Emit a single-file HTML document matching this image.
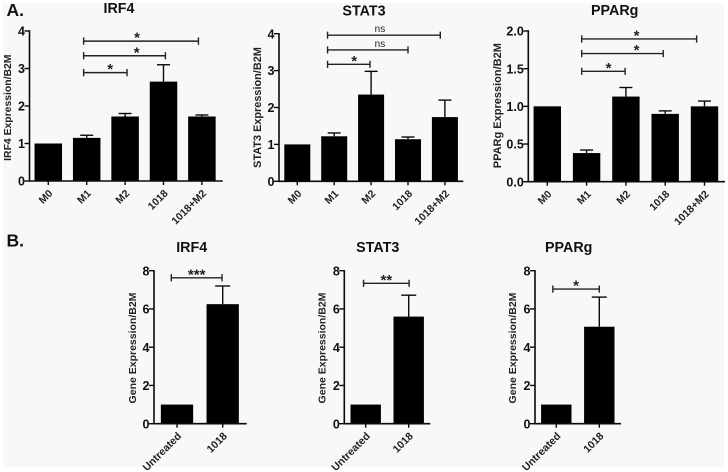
<!DOCTYPE html>
<html lang="en">
<head>
<meta charset="utf-8">
<title>Gene expression bar charts</title>
<style>
html,body{margin:0;padding:0;background:#fff;}
svg{display:block;font-family:"Liberation Sans",Arial,sans-serif;font-weight:bold;filter:blur(0.3px);}
</style>
</head>
<body>
<svg id="figure" width="728" height="472" viewBox="0 0 728 472" xmlns="http://www.w3.org/2000/svg">
<rect x="3" y="3" width="721" height="464" fill="#f8f8f8"/>
<text x="6.5" y="16" font-size="17.5" fill="#111">A.</text>
<text x="6.5" y="246.7" font-size="17.5" fill="#111">B.</text>
</svg>
<script>
const groupCategories = ["M0", "M1", "M2", "1018", "1018+M2"];
const pairCategories = ["Untreated", "1018"];

const irf4AValues = [1.0, 1.15, 1.72, 2.65, 1.72];
const irf4AErrorTops = [1.0, 1.22, 1.8, 3.1, 1.76];
const irf4ATicks = ["0", "1", "2", "3", "4"];
const irf4ABracketFrom = [0.92, 0.92, 0.92];
const irf4ABracketTo = [2.05, 3.05, 3.91];
const irf4ABracketLevel = [2.89, 3.34, 3.73];
const irf4ABracketLabel = ["*", "*", "*"];
const irf4ABracketLabelAt = [1.61, 2.3, 2.31];

const stat3AValues = [1.0, 1.22, 2.35, 1.14, 1.74];
const stat3AErrorTops = [1.0, 1.31, 2.98, 1.2, 2.2];
const stat3ATicks = ["0", "1", "2", "3", "4"];
const stat3ABracketFrom = [0.82, 0.82, 0.82];
const stat3ABracketTo = [1.97, 3.0, 3.875];
const stat3ABracketLevel = [3.17, 3.56, 3.96];
const stat3ABracketLabel = ["*", "ns", "ns"];
const stat3ABracketLabelAt = [1.54, 2.24, 2.24];

const ppargAValues = [1.0, 0.38, 1.13, 0.9, 1.0];
const ppargAErrorTops = [1.0, 0.42, 1.25, 0.94, 1.07];
const ppargATicks = ["0.0", "0.5", "1.0", "1.5", "2.0"];
const ppargABracketFrom = [0.875, 0.875, 0.875];
const ppargABracketTo = [1.98, 2.95, 3.8];
const ppargABracketLevel = [1.465, 1.70, 1.894];
const ppargABracketLabel = ["*", "*", "*"];
const ppargABracketLabelAt = [1.56, 2.27, 2.27];

const irf4BValues = [1.0, 6.25];
const irf4BErrorTops = [1.0, 7.2];
const stat3BValues = [1.0, 5.6];
const stat3BErrorTops = [1.0, 6.72];
const ppargBValues = [1.0, 5.07];
const ppargBErrorTops = [1.0, 6.62];
const pairTicks = ["0", "2", "4", "6", "8"];
const irf4BBracket = [-0.125, 0.985, 7.63];
const stat3BBracket = [-0.05, 1.01, 7.34];
const ppargBBracket = [-0.08, 1.0, 7.04];

const SVG_NS = "http://www.w3.org/2000/svg";
const figure = document.getElementById("figure");
const INK = "#0a0a0a";

function shape(parent, tag, attrs) {
  const el = document.createElementNS(SVG_NS, tag);
  for (const k in attrs) el.setAttribute(k, attrs[k]);
  parent.appendChild(el);
  return el;
}

function drawPanel(p) {
  const yMin = 0;
  const yMax = p.yMax;
  const yScale = v => p.y0 - (v - yMin) / (yMax - yMin) * (p.y0 - p.yTop);
  const xScale = i => p.firstCenter + i * p.step;

  const g = shape(figure, "g", {});
  
  

  const title = shape(g, "text", { x: p.titleX, y: p.titleY, "font-size": p.titleSize, "text-anchor": "middle", fill: "#111" });
  title.textContent = p.title;
  
  

  p.values.forEach((v, i) => {
    const top = yScale(v);
    const cx = xScale(i);
    const bar = shape(g, "rect", { x: cx - p.barWidth / 2, y: top, width: p.barWidth, height: p.y0 - top, fill: "#000" });
    
    

    if (p.errorTops[i] > v) {
      const errTop = yScale(p.errorTops[i]);
      const stem = shape(g, "line", { x1: cx, x2: cx, y1: top, y2: errTop, stroke: INK, "stroke-width": 1.4 });
      
      
      const cap = shape(g, "line", { x1: cx - p.capHalf, x2: cx + p.capHalf, y1: errTop, y2: errTop, stroke: INK, "stroke-width": 1.4 });
      
      
    }

    const tick = shape(g, "line", { x1: cx, x2: cx, y1: p.y0, y2: p.y0 + 4, stroke: INK, "stroke-width": 1.4 });
    
    

    const lx = cx + 5;
    const ly = p.y0 + 13;
    const label = shape(g, "text", { x: lx, y: ly, "font-size": p.catSize, "text-anchor": "end", fill: "#222", transform: "rotate(-45 " + lx + " " + ly + ")" });
    label.textContent = p.categories[i];
    
    
  });

  const xAxis = shape(g, "line", { x1: p.axisX - 0.8, x2: p.axisEnd, y1: p.y0, y2: p.y0, stroke: INK, "stroke-width": 1.6 });
  
  
  const yAxis = shape(g, "line", { x1: p.axisX, x2: p.axisX, y1: p.y0, y2: p.yTop - 0.7, stroke: INK, "stroke-width": 1.6 });
  
  

  p.ticks.forEach((t, i) => {
    const ty = yScale(Number(t));
    const tick = shape(g, "line", { x1: p.axisX - 5, x2: p.axisX, y1: ty, y2: ty, stroke: INK, "stroke-width": 1.4 });
    
    
    const label = shape(g, "text", { x: p.axisX - 4.5, y: ty + 4.6, "font-size": p.tickSize, "text-anchor": "end", fill: "#111" });
    label.textContent = t;
    
    
  });

  const yt = shape(g, "text", { "font-size": p.yTitleSize, "text-anchor": "middle", fill: "#222", transform: "translate(" + p.yTitleX + " " + p.yTitleY + ") rotate(-90)" });
  yt.textContent = p.yTitle;
  
  

  p.brFrom.forEach((f, i) => {
    const x1 = xScale(f);
    const x2 = xScale(p.brTo[i]);
    const by = yScale(p.brLevel[i]);
    const d = "M" + x1 + " " + (by - 3.6) + "V" + (by + 3.6) + "M" + x1 + " " + by + "H" + x2 + "M" + x2 + " " + (by - 3.6) + "V" + (by + 3.6);
    const br = shape(g, "path", { d: d, fill: "none", stroke: "#222", "stroke-width": 1.4 });
    
    
    const isNs = p.brLabel[i] === "ns";
    const labelX = p.brLabelAt ? xScale(p.brLabelAt[i]) : (x1 + x2) / 2;
    const sig = shape(g, "text", {
      x: labelX, y: isNs ? by - 3 : by + 1.5,
      "font-size": isNs ? 10 : 15, "text-anchor": "middle", fill: "#222",
      "font-weight": isNs ? "normal" : "bold"
    });
    sig.textContent = p.brLabel[i];
    
    
  });
}

const aCommon = { categories: groupCategories, titleSize: 14.3, catSize: 10.5, tickSize: 12.5, capHalf: 6.5 };
const bCommon = { categories: pairCategories, titleY: 252, titleSize: 14.3, catSize: 10.6, tickSize: 12.5, yTitleSize: 10.5, yMax: 8, capHalf: 7.5, ticks: pairTicks, yTitle: "Gene Expression/B2M", yTitleY: 348 };

drawPanel(Object.assign({}, aCommon, {
  id: "irf4-a", title: "IRF4", titleX: 119, titleY: 13, values: irf4AValues, errorTops: irf4AErrorTops, ticks: irf4ATicks,
  yMax: 4, y0: 181, yTop: 31, axisX: 29.5, axisEnd: 222.7, firstCenter: 48.3, step: 38.4, barWidth: 27.5,
  yTitle: "IRF4 Expression/B2M", yTitleX: 11, yTitleY: 107.7, yTitleSize: 10.4,
  brFrom: irf4ABracketFrom, brTo: irf4ABracketTo, brLevel: irf4ABracketLevel, brLabel: irf4ABracketLabel, brLabelAt: irf4ABracketLabelAt
}));
drawPanel(Object.assign({}, aCommon, {
  id: "stat3-a", title: "STAT3", titleX: 364, titleY: 15.5, values: stat3AValues, errorTops: stat3AErrorTops, ticks: stat3ATicks,
  yMax: 4, y0: 181.3, yTop: 33.7, axisX: 279, axisEnd: 463.3, firstCenter: 297.3, step: 36.9, barWidth: 26,
  yTitle: "STAT3 Expression/B2M", yTitleX: 261, yTitleY: 107.5, yTitleSize: 10.9,
  brFrom: stat3ABracketFrom, brTo: stat3ABracketTo, brLevel: stat3ABracketLevel, brLabel: stat3ABracketLabel, brLabelAt: stat3ABracketLabelAt
}));
drawPanel(Object.assign({}, aCommon, {
  id: "pparg-a", title: "PPARg", titleX: 614.7, titleY: 15, values: ppargAValues, errorTops: ppargAErrorTops, ticks: ppargATicks,
  yMax: 2, y0: 181.7, yTop: 31, axisX: 528.3, axisEnd: 725, firstCenter: 547.3, step: 39.3, barWidth: 27.4,
  yTitle: "PPARg Expression/B2M", yTitleX: 501, yTitleY: 105.7, yTitleSize: 11,
  brFrom: ppargABracketFrom, brTo: ppargABracketTo, brLevel: ppargABracketLevel, brLabel: ppargABracketLabel, brLabelAt: ppargABracketLabelAt
}));
drawPanel(Object.assign({}, bCommon, {
  id: "irf4-b", title: "IRF4", titleX: 191.7, values: irf4BValues, errorTops: irf4BErrorTops,
  y0: 423.7, yTop: 270.7, axisX: 154, axisEnd: 246.7, firstCenter: 177, step: 45.7, barWidth: 32.3, yTitleX: 136,
  brFrom: [irf4BBracket[0]], brTo: [irf4BBracket[1]], brLevel: [irf4BBracket[2]], brLabel: ["***"]
}));
drawPanel(Object.assign({}, bCommon, {
  id: "stat3-b", title: "STAT3", titleX: 377.7, values: stat3BValues, errorTops: stat3BErrorTops,
  y0: 423.7, yTop: 270.7, axisX: 344.3, axisEnd: 430.3, firstCenter: 365.7, step: 43, barWidth: 30.4, yTitleX: 325.5,
  brFrom: [stat3BBracket[0]], brTo: [stat3BBracket[1]], brLevel: [stat3BBracket[2]], brLabel: ["**"]
}));
drawPanel(Object.assign({}, bCommon, {
  id: "pparg-b", title: "PPARg", titleX: 568.7, values: ppargBValues, errorTops: ppargBErrorTops,
  y0: 423.7, yTop: 270.7, axisX: 535, axisEnd: 621, firstCenter: 556.3, step: 43, barWidth: 30.4, yTitleX: 516,
  brFrom: [ppargBBracket[0]], brTo: [ppargBBracket[1]], brLevel: [ppargBBracket[2]], brLabel: ["*"]
}));
</script>
</body>
</html>
